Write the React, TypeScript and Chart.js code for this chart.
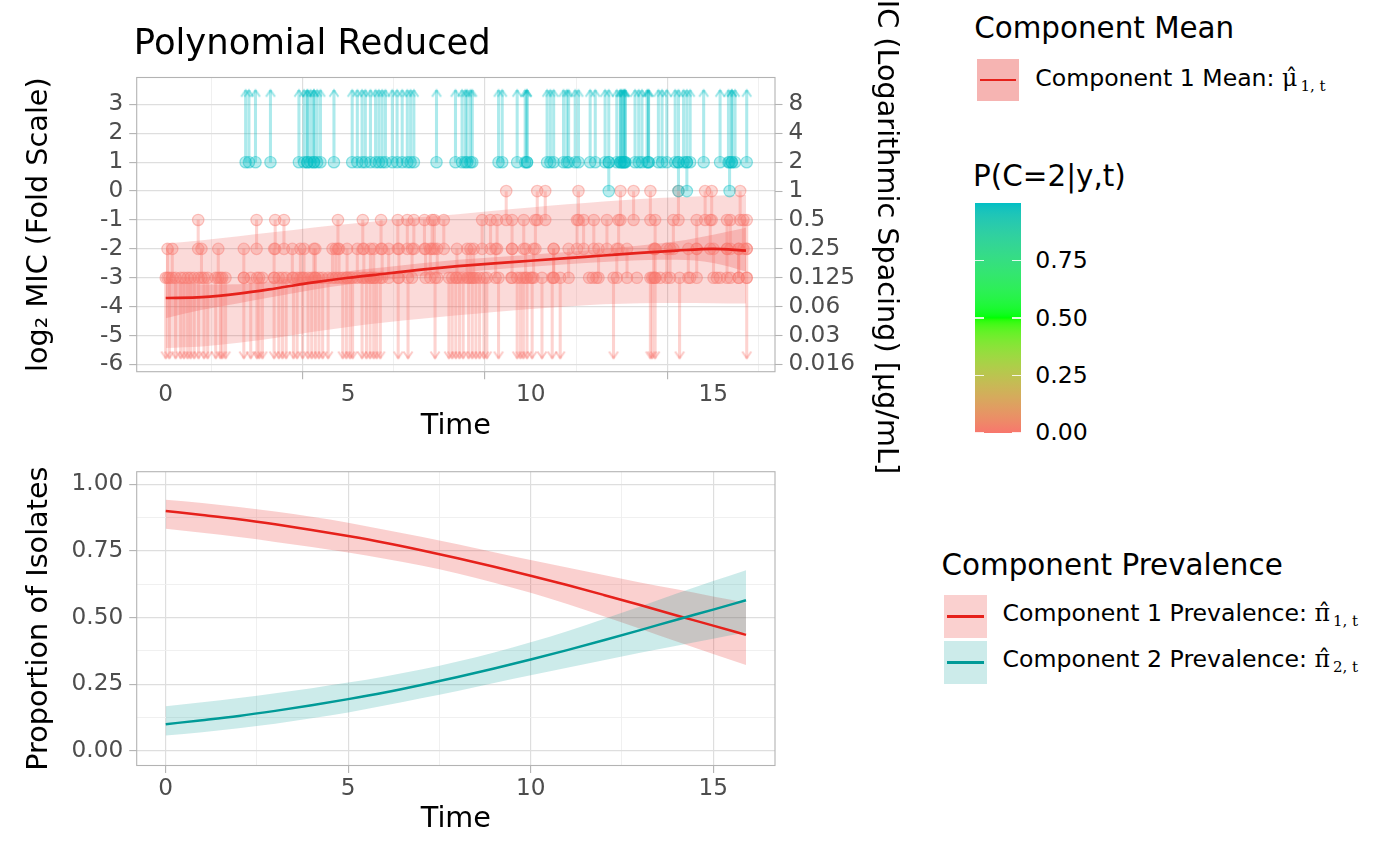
import React, { useEffect, useRef } from "react";
import { Chart, registerables } from "chart.js";

Chart.register(...registerables);
Chart.defaults.font.family = "'DejaVu Sans', 'Noto Sans', sans-serif";

// ---------------- Top panel: fitted mean & bands (log2 MIC) ----------------
const FIT_TIMES = [0, 1, 2, 3, 4, 5, 6, 7, 8, 9, 10, 11, 12, 13, 14, 15, 15.9];
const MEAN_LOG2 = [-3.7, -3.67, -3.55, -3.37, -3.17, -3.0, -2.86, -2.72, -2.6, -2.5, -2.41, -2.32, -2.23, -2.14, -2.06, -2.0, -2.06];
const MEAN_CI_LO = [-4.4, -4.11, -3.88, -3.65, -3.42, -3.23, -3.08, -2.94, -2.82, -2.71, -2.62, -2.53, -2.455, -2.395, -2.38, -2.49, -2.78];
const MEAN_CI_HI = [-3.0, -3.23, -3.22, -3.09, -2.92, -2.77, -2.64, -2.5, -2.38, -2.29, -2.2, -2.11, -2.005, -1.885, -1.74, -1.51, -1.27];
const PRED_LO = [-5.43, -5.38, -5.25, -5.08, -4.88, -4.7, -4.55, -4.42, -4.3, -4.18, -4.08, -3.99, -3.92, -3.88, -3.87, -3.88, -3.89];
const PRED_HI = [-1.81, -1.7, -1.56, -1.42, -1.27, -1.14, -1.02, -0.9, -0.8, -0.68, -0.57, -0.46, -0.36, -0.27, -0.21, -0.16, -0.14];

// ---------------- Top panel: observations (times) by censoring interval ----------------
// component 1 (P(C=2) ~ 0), left-censored: MIC <= 0.125 (log2 <= -3)
const RED_LE_M3 = [0.0, 0.1, 0.27, 0.41, 0.5, 0.6, 0.68, 0.78, 0.9, 1.05, 1.15, 1.37, 1.5, 1.55, 1.64, 2.14, 2.33, 2.5, 2.56, 2.65, 2.97, 3.1, 3.2, 3.3, 3.5, 3.6, 3.75, 3.9, 4.0, 4.1, 4.2, 4.3, 4.45, 4.85, 4.95, 5.05, 5.12, 5.38, 5.5, 5.6, 5.7, 5.78, 5.88, 6.37, 6.64, 7.38, 7.76, 7.85, 7.95, 8.05, 8.15, 8.3, 8.4, 8.5, 8.6, 8.72, 8.8, 9.12, 9.63, 9.72, 9.8, 9.9, 10.04, 10.31, 10.59, 10.81, 12.27, 13.28, 13.33, 13.41, 14.08, 15.92];
// interval (-3, -2]
const RED_M3_M2 = [0.05, 0.18, 0.98, 1.44, 2.14, 2.97, 3.47, 3.69, 3.79, 4.06, 4.1, 4.57, 4.66, 4.75, 4.97, 5.25, 5.43, 5.61, 5.7, 5.93, 6.11, 6.39, 6.75, 7.12, 7.25, 7.44, 7.98, 8.26, 8.35, 8.44, 9.04, 9.49, 9.86, 10.08, 10.63, 10.63, 11.04, 11.86, 12.36, 12.64, 13.37, 13.41, 13.73, 13.82, 14.32, 14.55, 15.01, 15.38, 15.7, 15.7, 15.92];
// interval (-2, -1]
const RED_M2_M1 = [0.89, 2.49, 3.0, 3.24, 4.72, 5.4, 5.9, 6.36, 6.62, 6.8, 7.09, 7.3, 7.36, 7.62, 8.67, 8.9, 9.08, 9.49, 9.81, 10.13, 11.27, 11.45, 11.73, 12.09, 12.41, 13.41, 13.91, 14.55, 14.92, 15.38, 15.47, 15.83, 15.92];
// interval (-1, 0]
const RED_M1_0 = [9.33, 10.18, 10.4, 11.31, 12.46, 12.82, 13.28, 14.05, 14.78, 14.96, 15.74];
// exact -3
const RED_EQ_M3 = [9.47, 10.0, 11.6, 11.7, 11.8, 12.91, 13.55, 14.37, 15.1, 15.19, 15.47];
// component 2 (P(C=2) ~ 1), right-censored: MIC > 2 (log2 > 1)
const CYAN_GT_1 = [2.19, 2.28, 2.46, 2.87, 3.65, 3.79, 3.88, 3.88, 3.97, 4.06, 4.06, 4.15, 4.24, 4.61, 5.11, 5.25, 5.38, 5.47, 5.61, 5.75, 5.84, 5.93, 6.02, 6.21, 6.34, 6.48, 6.62, 6.71, 6.8, 7.42, 7.94, 8.12, 8.21, 8.26, 8.35, 8.4, 9.12, 9.22, 9.63, 9.85, 9.9, 9.9, 10.45, 10.54, 10.63, 10.9, 10.99, 11.04, 11.22, 11.31, 11.63, 11.77, 12.04, 12.14, 12.36, 12.46, 12.46, 12.5, 12.55, 12.55, 12.59, 12.59, 12.86, 12.96, 13.05, 13.19, 13.23, 13.23, 13.5, 13.6, 13.73, 13.96, 14.05, 14.19, 14.28, 14.37, 14.74, 15.19, 15.42, 15.51, 15.51, 15.6, 15.92];
// interval (0, 1]
const CYAN_0_1 = [12.14, 14.05, 14.28, 15.45];

const P_COMP1 = 0;
const P_COMP2 = 1;

const Y_TICKS = [-6, -5, -4, -3, -2, -1, 0, 1, 2, 3];
const MIC_LABELS = ["0.016", "0.03", "0.06", "0.125", "0.25", "0.5", "1", "2", "4", "8"];
const X_TICKS = [0, 2.5, 5, 7.5, 10, 12.5, 15];
const X_LABELED = [0, 5, 10, 15];

// ---------------- Bottom panel: prevalence ----------------
const PREV1 = [0.9, 0.885, 0.869, 0.85, 0.829, 0.806, 0.781, 0.753, 0.723, 0.691, 0.657, 0.622, 0.585, 0.547, 0.508, 0.47, 0.435];
const PREV1_LO = [0.833, 0.818, 0.802, 0.784, 0.765, 0.744, 0.721, 0.695, 0.665, 0.631, 0.593, 0.551, 0.505, 0.458, 0.41, 0.363, 0.322];
const PREV1_HI = [0.942, 0.93, 0.915, 0.898, 0.878, 0.856, 0.83, 0.803, 0.775, 0.745, 0.716, 0.688, 0.66, 0.632, 0.606, 0.579, 0.556];
const PREV2 = [0.1, 0.115, 0.131, 0.15, 0.171, 0.194, 0.219, 0.247, 0.277, 0.309, 0.343, 0.378, 0.415, 0.453, 0.492, 0.53, 0.565];
const PREV2_LO = [0.058, 0.07, 0.085, 0.102, 0.122, 0.144, 0.17, 0.197, 0.225, 0.255, 0.284, 0.312, 0.34, 0.368, 0.394, 0.421, 0.444];
const PREV2_HI = [0.167, 0.182, 0.198, 0.216, 0.235, 0.256, 0.279, 0.305, 0.335, 0.369, 0.407, 0.449, 0.495, 0.542, 0.59, 0.637, 0.678];
const PREV_Y_TICKS = [0, 0.125, 0.25, 0.375, 0.5, 0.625, 0.75, 0.875, 1];
const PREV_Y_LABELED = [0, 0.25, 0.5, 0.75, 1];

const CB_BREAKS = [0, 0.25, 0.5, 0.75];

// ---------------- styling ----------------
const X_MIN = -0.795;
const X_MAX = 16.695;
const ARROW_DOWN_Y = -5.78;
const ARROW_UP_Y = 3.49;
const TICK_TEXT = "#4D4D4D";
const AXIS_GREY = "#B3B3B3";
const GRID_MAJOR = "#DEDEDE";
const GRID_MINOR = "#EEEEEE";
const RED_LINE = "#E6211B";
const TEAL_LINE = "#009A97";
const TICK_FONT = 23.2;
const AXIS_TITLE_FONT = 28.7;
const LEGEND_TITLE_FONT = 29.4;
const LEGEND_TEXT_FONT = 23.6;

const CB_STOPS: [number, number[]][] = [
  [0, [248, 118, 109]],
  [0.5, [0, 255, 0]],
  [1, [0, 191, 196]],
];
function probRGB(p: number): number[] {
  for (let i = 0; i < CB_STOPS.length - 1; i++) {
    const [a, ca] = CB_STOPS[i];
    const [b, cb] = CB_STOPS[i + 1];
    if (p <= b) {
      const f = (p - a) / (b - a);
      return ca.map((v, k) => Math.round(v + (cb[k] - v) * f));
    }
  }
  return CB_STOPS[CB_STOPS.length - 1][1];
}
const rgba = (c: number[], a: number) => `rgba(${c[0]},${c[1]},${c[2]},${a})`;

type Obs = { t: number; lo: number | null; hi: number | null; p: number };
function buildObs(): Obs[] {
  const out: Obs[] = [];
  RED_LE_M3.forEach((t) => out.push({ t, lo: null, hi: -3, p: P_COMP1 }));
  RED_M3_M2.forEach((t) => out.push({ t, lo: -3, hi: -2, p: P_COMP1 }));
  RED_M2_M1.forEach((t) => out.push({ t, lo: -2, hi: -1, p: P_COMP1 }));
  RED_M1_0.forEach((t) => out.push({ t, lo: -1, hi: 0, p: P_COMP1 }));
  RED_EQ_M3.forEach((t) => out.push({ t, lo: -3, hi: -3, p: P_COMP1 }));
  CYAN_GT_1.forEach((t) => out.push({ t, lo: 1, hi: null, p: P_COMP2 }));
  CYAN_0_1.forEach((t) => out.push({ t, lo: 0, hi: 1, p: P_COMP2 }));
  return out;
}

function makeArrow(color: string, up: boolean): HTMLCanvasElement {
  const c = document.createElement("canvas");
  c.width = 14;
  c.height = 26;
  const g = c.getContext("2d")!;
  g.strokeStyle = color;
  g.lineWidth = 2;
  const tip = 13;
  const arm = up ? tip + 6.5 : tip - 6.5;
  g.beginPath();
  g.moveTo(2.5, arm);
  g.lineTo(7, tip);
  g.lineTo(11.5, arm);
  g.stroke();
  return c;
}

const panelBorder = {
  id: "panelBorder",
  afterDraw(chart: any) {
    const { ctx, chartArea: a } = chart;
    ctx.save();
    ctx.strokeStyle = AXIS_GREY;
    ctx.lineWidth = 1.1;
    ctx.strokeRect(a.left, a.top, a.right - a.left, a.bottom - a.top);
    ctx.restore();
  },
};

function xScale(boxHeight: number, titlePadBottom: number) {
  const major = (c: any) => c.tick && X_LABELED.includes(c.tick.value);
  return {
    type: "linear",
    min: X_MIN,
    max: X_MAX,
    offset: false,
    afterBuildTicks: (s: any) => {
      s.ticks = X_TICKS.map((v) => ({ value: v }));
    },
    afterFit: (s: any) => {
      s.height = boxHeight;
    },
    ticks: {
      autoSkip: false,
      maxRotation: 0,
      minRotation: 0,
      padding: 2,
      color: TICK_TEXT,
      font: { size: TICK_FONT },
      callback: (v: any) => (X_LABELED.includes(Number(v)) ? String(v) : ""),
    },
    grid: {
      color: (c: any) => (major(c) ? GRID_MAJOR : GRID_MINOR),
      lineWidth: (c: any) => (major(c) ? 1.2 : 0.9),
      tickLength: 7.5,
      tickWidth: 1.1,
      tickColor: (c: any) => (major(c) ? AXIS_GREY : "rgba(0,0,0,0)"),
    },
    border: { display: false },
    title: {
      display: true,
      text: "Time",
      color: "#000",
      font: { size: AXIS_TITLE_FONT },
      padding: { top: 0, bottom: titlePadBottom },
    },
  };
}

function lineSeries(ys: number[]) {
  return FIT_TIMES.map((t, i) => ({ x: t, y: ys[i] }));
}

export default function App() {
  const topRef = useRef<HTMLCanvasElement>(null);
  const botRef = useRef<HTMLCanvasElement>(null);

  useEffect(() => {
    const charts: Chart[] = [];
    const obs = buildObs();

    const arrowCache: Record<string, HTMLCanvasElement> = {};
    const arrowImg = (p: number, up: boolean) => {
      const key = `${p}-${up}`;
      if (!arrowCache[key]) arrowCache[key] = makeArrow(rgba(probRGB(p), 0.4), up);
      return arrowCache[key];
    };

    const segData = obs.map((o) => ({ x: o.t, y: [o.lo ?? ARROW_DOWN_Y, o.hi ?? ARROW_UP_Y] }));
    const segColors = obs.map((o) => rgba(probRGB(o.p), 0.32));

    const circData: { x: number; y: number }[] = [];
    const circFill: string[] = [];
    const circStroke: string[] = [];
    const arrowData: { x: number; y: number }[] = [];
    const arrowStyles: HTMLCanvasElement[] = [];
    obs.forEach((o) => {
      const ends: number[] = [];
      if (o.lo !== null) ends.push(o.lo);
      if (o.hi !== null && o.hi !== o.lo) ends.push(o.hi);
      ends.forEach((y) => {
        circData.push({ x: o.t, y });
        circFill.push(rgba(probRGB(o.p), 0.28));
        circStroke.push(rgba(probRGB(o.p), 0.42));
      });
      if (o.lo === null) {
        arrowData.push({ x: o.t, y: ARROW_DOWN_Y });
        arrowStyles.push(arrowImg(o.p, false));
      }
      if (o.hi === null) {
        arrowData.push({ x: o.t, y: ARROW_UP_Y });
        arrowStyles.push(arrowImg(o.p, true));
      }
    });

    const band = (ys: number[], order: number, fill: any, bg?: string) => ({
      type: "line",
      data: lineSeries(ys),
      borderWidth: 0,
      borderColor: "rgba(0,0,0,0)",
      pointRadius: 0,
      cubicInterpolationMode: "monotone",
      fill,
      backgroundColor: bg ?? "rgba(0,0,0,0)",
      order,
    });

    const yTickFont = { size: TICK_FONT };

    if (topRef.current) {
      charts.push(
        new Chart(topRef.current, {
          type: "scatter",
          data: {
            datasets: [
              band(PRED_LO, 21, false),
              band(PRED_HI, 20, "-1", "rgba(230,33,27,0.17)"),
              band(MEAN_CI_LO, 19, false),
              band(MEAN_CI_HI, 18, "-1", "rgba(230,33,27,0.2)"),
              {
                type: "bar",
                data: segData,
                backgroundColor: segColors,
                borderWidth: 0,
                barThickness: 2.4,
                order: 10,
              },
              {
                type: "scatter",
                data: circData,
                pointRadius: 5.7,
                pointBackgroundColor: circFill,
                pointBorderColor: circStroke,
                pointBorderWidth: 1.2,
                order: 9,
              },
              {
                type: "scatter",
                data: arrowData,
                pointStyle: arrowStyles,
                order: 8,
              },
              {
                type: "line",
                data: lineSeries(MEAN_LOG2),
                borderColor: RED_LINE,
                borderWidth: 2.7,
                pointRadius: 0,
                cubicInterpolationMode: "monotone",
                fill: false,
                order: 1,
              },
            ] as any,
          },
          options: {
            responsive: false,
            animation: false,
            events: [],
            layout: { padding: { top: 77.5, left: 0, right: 0, bottom: 55 } },
            plugins: { legend: { display: false }, tooltip: { enabled: false } },
            scales: {
              x: xScale(445 - 371.7, 0.8) as any,
              y: {
                type: "linear",
                position: "left",
                min: -6.25,
                max: 3.93,
                afterBuildTicks: (s: any) => {
                  s.ticks = Y_TICKS.map((v) => ({ value: v }));
                },
                afterFit: (s: any) => {
                  s.width = 136.7;
                },
                ticks: { color: TICK_TEXT, font: yTickFont, padding: 6, callback: (v: any) => String(v) },
                grid: { color: GRID_MAJOR, lineWidth: 1.2, tickLength: 7.5, tickWidth: 1.1, tickColor: AXIS_GREY },
                border: { display: false },
                title: {
                  display: true,
                  text: "log₂ MIC (Fold Scale)",
                  color: "#000",
                  font: { size: AXIS_TITLE_FONT },
                  padding: { top: 22.8, bottom: 0 },
                },
              },
              y2: {
                type: "linear",
                position: "right",
                min: -6.25,
                max: 3.93,
                afterBuildTicks: (s: any) => {
                  s.ticks = Y_TICKS.map((v) => ({ value: v }));
                },
                afterFit: (s: any) => {
                  s.width = 930 - 775;
                },
                ticks: {
                  color: TICK_TEXT,
                  font: yTickFont,
                  padding: 6,
                  callback: (v: any) => MIC_LABELS[Y_TICKS.indexOf(Number(v))] ?? "",
                },
                grid: { drawOnChartArea: false, tickLength: 7.5, tickWidth: 1.1, tickColor: AXIS_GREY, color: AXIS_GREY },
                border: { display: false },
                title: {
                  display: true,
                  text: "MIC (Logarithmic Spacing) [µg/mL]",
                  color: "#000",
                  font: { size: AXIS_TITLE_FONT },
                  padding: { top: 27.8, bottom: 0 },
                },
              },
            },
          } as any,
          plugins: [panelBorder],
        })
      );
    }

    if (botRef.current) {
      const prevMajor = (c: any) => c.tick && PREV_Y_LABELED.includes(c.tick.value);
      charts.push(
        new Chart(botRef.current, {
          type: "scatter",
          data: {
            datasets: [
              band(PREV1_LO, 21, false),
              band(PREV1_HI, 20, "-1", "rgba(230,33,27,0.21)"),
              band(PREV2_LO, 19, false),
              band(PREV2_HI, 18, "-1", "rgba(0,154,151,0.2)"),
              {
                type: "line",
                data: lineSeries(PREV1),
                borderColor: RED_LINE,
                borderWidth: 2.5,
                pointRadius: 0,
                cubicInterpolationMode: "monotone",
                fill: false,
                order: 2,
              },
              {
                type: "line",
                data: lineSeries(PREV2),
                borderColor: TEAL_LINE,
                borderWidth: 2.5,
                pointRadius: 0,
                cubicInterpolationMode: "monotone",
                fill: false,
                order: 1,
              },
            ] as any,
          },
          options: {
            responsive: false,
            animation: false,
            events: [],
            layout: { padding: { top: 471.7 - 445, left: 0, right: 930 - 775, bottom: 0 } },
            plugins: { legend: { display: false }, tooltip: { enabled: false } },
            scales: {
              x: xScale(865 - 765.5, 28.1) as any,
              y: {
                type: "linear",
                position: "left",
                min: -0.055,
                max: 1.0474,
                afterBuildTicks: (s: any) => {
                  s.ticks = PREV_Y_TICKS.map((v) => ({ value: v }));
                },
                afterFit: (s: any) => {
                  s.width = 136.7;
                },
                ticks: {
                  color: TICK_TEXT,
                  font: yTickFont,
                  padding: 6,
                  callback: (v: any) => (PREV_Y_LABELED.includes(Number(v)) ? Number(v).toFixed(2) : ""),
                },
                grid: {
                  color: (c: any) => (prevMajor(c) ? GRID_MAJOR : GRID_MINOR),
                  lineWidth: (c: any) => (prevMajor(c) ? 1.2 : 0.9),
                  tickLength: 7.5,
                  tickWidth: 1.1,
                  tickColor: (c: any) => (prevMajor(c) ? AXIS_GREY : "rgba(0,0,0,0)"),
                },
                border: { display: false },
                title: {
                  display: true,
                  text: "Proportion of Isolates",
                  color: "#000",
                  font: { size: AXIS_TITLE_FONT },
                  padding: { top: 22.8, bottom: 0 },
                },
              },
            },
          } as any,
          plugins: [panelBorder],
        })
      );
    }

    return () => charts.forEach((c) => c.destroy());
  }, []);

  const sans = "'DejaVu Sans', 'Noto Sans', sans-serif";
  const serif = "'DejaVu Serif', 'Liberation Serif', serif";
  const txt = (left: number, baseline: number, size: number, color = "#000"): React.CSSProperties => ({
    position: "absolute",
    left,
    top: baseline - 0.846 * size,
    fontSize: size,
    lineHeight: 1,
    whiteSpace: "nowrap",
    color,
    fontFamily: sans,
  });
  const keyBox = (left: number, top: number, w: number, h: number, bg: string, line: string) => (
    <div style={{ position: "absolute", left, top, width: w, height: h, background: bg }}>
      <div style={{ position: "absolute", left: 3, top: h / 2 - 1.3, width: w - 6, height: 2.6, background: line }} />
    </div>
  );
  const mathSub = (sym: string, sub: string) => (
    <>
      <span style={{ fontFamily: serif }}>{sym}</span>
      <span style={{ fontFamily: serif, fontSize: 15, position: "relative", top: 5, marginLeft: 3 }}>{sub}</span>
    </>
  );

  const cbTop = 203.3;
  const cbH = 229.4;
  const cbLeft = 975;
  const cbW = 45.7;

  return (
    <div
      style={{
        position: "absolute",
        left: 0,
        top: 0,
        width: 1400,
        height: 865,
        background: "#fff",
        overflow: "hidden",
        fontFamily: sans,
      }}
    >
      <canvas ref={botRef} width={930} height={420} style={{ position: "absolute", left: 0, top: 445 }} />
      <canvas ref={topRef} width={930} height={500} style={{ position: "absolute", left: 0, top: 0 }} />

      <div style={txt(133.8, 54, 35.4)}>Polynomial Reduced</div>

      {/* Component Mean legend */}
      <div style={txt(974.2, 39.3, LEGEND_TITLE_FONT)}>Component Mean</div>
      {keyBox(977, 59, 42, 41.7, "rgb(246,180,178)", RED_LINE)}
      <div style={txt(1035.3, 86.7, LEGEND_TEXT_FONT)}>
        Component 1 Mean: {mathSub("μ\u0302", "1, t")}
      </div>

      {/* colour bar */}
      <div style={txt(973.1, 186.7, LEGEND_TITLE_FONT)}>P(C=2|y,t)</div>
      <div
        style={{
          position: "absolute",
          left: cbLeft,
          top: cbTop,
          width: cbW,
          height: cbH,
          background:
            "linear-gradient(to top, #F8766D 0%, #E0925E 12.5%, #BDB64A 25%, #86D831 37.5%, #00FF00 50%, #3BEE5C 62.5%, #40DE86 75%, #31CEA8 87.5%, #00BFC4 100%)",
        }}
      />
      <div
        style={{
          position: "absolute",
          left: cbLeft,
          top: cbTop,
          width: cbW,
          height: cbH,
          backgroundImage: "linear-gradient(to top in lab, #F8766D, #00FF00, #00BFC4)",
        }}
      />
      {CB_BREAKS.map((b) => {
        const y = cbTop + cbH * (1 - b);
        return (
          <React.Fragment key={b}>
            <div style={{ position: "absolute", left: cbLeft, top: y - 0.6, width: 9, height: 1.2, background: "rgba(255,255,255,0.85)" }} />
            <div style={{ position: "absolute", left: cbLeft + cbW - 9, top: y - 0.6, width: 9, height: 1.2, background: "rgba(255,255,255,0.85)" }} />
            <div style={txt(1035.2, y + 8.7, LEGEND_TEXT_FONT)}>{b.toFixed(2)}</div>
          </React.Fragment>
        );
      })}

      {/* Component Prevalence legend */}
      <div style={txt(941.5, 576, LEGEND_TITLE_FONT)}>Component Prevalence</div>
      {keyBox(944, 595, 43, 42.7, "rgba(230,33,27,0.21)", RED_LINE)}
      {keyBox(944, 641, 43, 42.7, "rgba(0,154,151,0.2)", TEAL_LINE)}
      <div style={txt(1002.6, 622.3, LEGEND_TEXT_FONT)}>
        Component 1 Prevalence: {mathSub("π\u0302", "1, t")}
      </div>
      <div style={txt(1002.6, 668.3, LEGEND_TEXT_FONT)}>
        Component 2 Prevalence: {mathSub("π\u0302", "2, t")}
      </div>
    </div>
  );
}
